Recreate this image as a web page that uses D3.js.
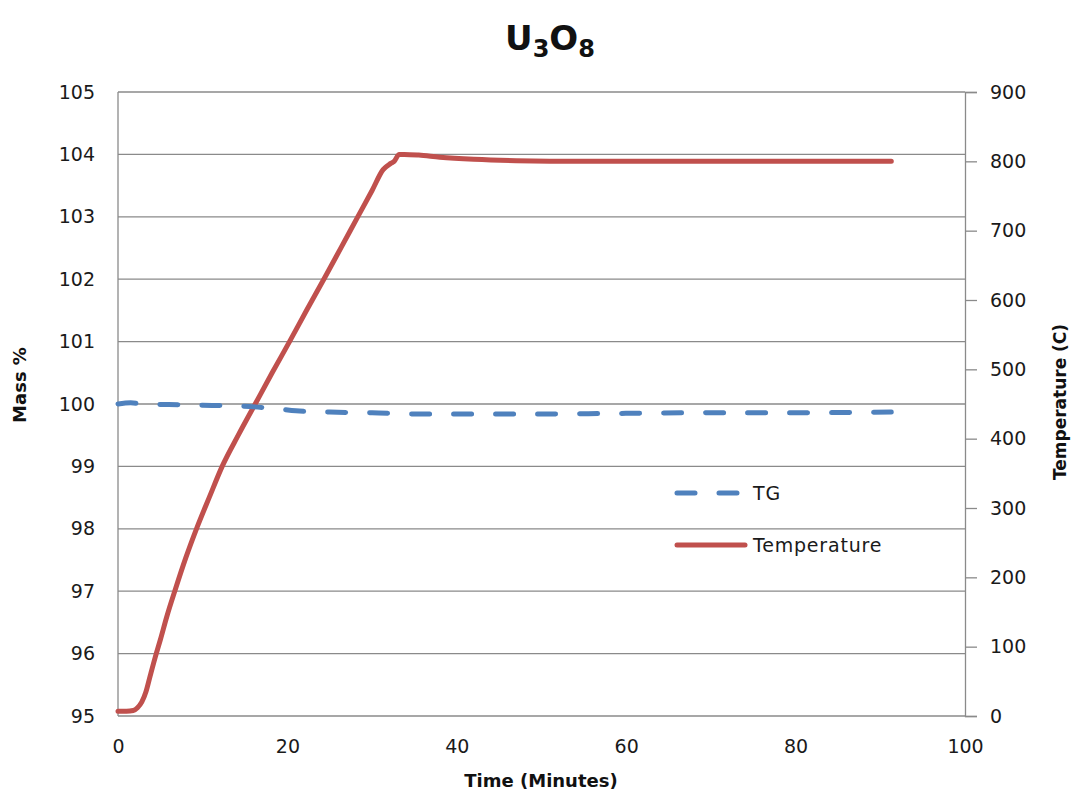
<!DOCTYPE html>
<html><head><meta charset="utf-8">
<script src="https://cdn.jsdelivr.net/npm/d3@7"></script>
<style>
body{margin:0;background:#fff;}
text{font-family:"DejaVu Sans",sans-serif;}
</style></head>
<body><svg id="c" width="1071" height="793"></svg>
<script>
// Data
const tempTime = [0, 1, 1.8, 2.3, 2.8, 3.3, 3.8, 4.4, 5.0, 5.8, 6.7, 8.0, 9.3, 10.8, 12.3, 14.2, 16.2, 18.2, 20.3, 22.3, 24.4, 26.4, 28.4, 30.0, 31.3, 32.2, 32.6, 33.2, 33.8, 35.5, 38, 42, 47, 55, 65, 75, 85, 91.3];
const tempVal  = [7, 7, 8, 12, 20, 35, 58, 85, 110, 145, 180, 228, 271, 316, 360, 405, 450, 495, 541, 586, 632, 677, 722, 758, 788, 797, 800, 810, 810, 809, 806, 803, 801, 800, 800, 800, 800, 800];
const tgTime = [0, 1.5, 3, 6, 10, 14, 16.5, 19, 21, 25, 30, 35, 40, 50, 60, 70, 80, 91.3];
const tgVal  = [100.0, 100.02, 100.0, 99.99, 99.98, 99.97, 99.95, 99.92, 99.89, 99.87, 99.86, 99.84, 99.84, 99.84, 99.85, 99.86, 99.86, 99.87];
const xTicks = [0, 20, 40, 60, 80, 100];
const massTicks = [95, 96, 97, 98, 99, 100, 101, 102, 103, 104, 105];
const tempTicks = [0, 100, 200, 300, 400, 500, 600, 700, 800, 900];
const seriesNames = ["TG", "Temperature"];
const colors = ["#4F81BD", "#C0504D"];

const svg = d3.select("#c");
const L = 118, R = 965, T = 92, B = 716;
const x = d3.scaleLinear().domain([0, 100]).range([L, R]);
const yM = d3.scaleLinear().domain([95, 105]).range([B, T]);
const yT = d3.scaleLinear().domain([0, 900]).range([B, T]);

// gridlines
svg.append("g").selectAll("line").data(massTicks).join("line")
  .attr("x1", L).attr("x2", R).attr("y1", d => yM(d)).attr("y2", d => yM(d))
  .attr("stroke", "#8a8a8a").attr("stroke-width", 1.3);

// left axis line
svg.append("line").attr("x1", L).attr("x2", L).attr("y1", T).attr("y2", B)
  .attr("stroke", "#8a8a8a").attr("stroke-width", 1.3);
// right axis line + ticks
const ra = svg.append("g").attr("transform", `translate(${R},0)`)
  .call(d3.axisRight(yT).tickValues(tempTicks).tickSize(12).tickPadding(13));
ra.select(".domain").attr("stroke", "#8a8a8a").attr("stroke-width", 1.3);
ra.selectAll(".tick line").attr("stroke", "#8a8a8a").attr("stroke-width", 1.3);
ra.selectAll("text").attr("font-size", 19).attr("fill", "#1a1a1a").attr("font-family", "DejaVu Sans");

// left labels
const la = svg.append("g").attr("transform", `translate(${L},0)`)
  .call(d3.axisLeft(yM).tickValues(massTicks).tickSize(0).tickPadding(23));
la.select(".domain").remove();
la.selectAll("text").attr("font-size", 19).attr("fill", "#1a1a1a").attr("font-family", "DejaVu Sans");

// bottom labels
const ba = svg.append("g").attr("transform", `translate(0,${B})`)
  .call(d3.axisBottom(x).tickValues(xTicks).tickSize(0).tickPadding(24));
ba.select(".domain").remove();
ba.selectAll("text").attr("font-size", 19).attr("fill", "#1a1a1a").attr("font-family", "DejaVu Sans");

// lines
const tgLine = d3.line().x((d, i) => x(tgTime[i])).y(d => yM(d)).curve(d3.curveMonotoneX);
const tLine = d3.line().x((d, i) => x(tempTime[i])).y(d => yT(d)).curve(d3.curveMonotoneX);

svg.append("path").datum(tempVal).attr("d", tLine)
  .attr("fill", "none").attr("stroke", colors[1]).attr("stroke-width", 5).attr("stroke-linejoin", "round").attr("stroke-linecap", "round");
svg.append("path").datum(tgVal).attr("d", tgLine)
  .attr("fill", "none").attr("stroke", colors[0]).attr("stroke-width", 5)
  .attr("stroke-dasharray", "18,24").attr("stroke-linecap", "round");

// legend
const lg = svg.append("g");
const ly = [493, 545];
seriesNames.forEach((n, i) => {
  lg.append("line").attr("x1", 677).attr("x2", 745).attr("y1", ly[i]).attr("y2", ly[i])
    .attr("stroke", colors[i]).attr("stroke-width", 5).attr("stroke-linecap", "round")
    .attr("stroke-dasharray", i === 0 ? "18,24" : null);
  lg.append("text").attr("x", 753).attr("y", ly[i]).attr("dy", "0.35em")
    .attr("font-size", 19).attr("fill", "#1a1a1a").attr("letter-spacing", 0.8).text(n);
});

// title
const title = svg.append("text").attr("x", 550).attr("y", 50).attr("text-anchor", "middle")
  .attr("font-size", 34).attr("font-weight", "bold").attr("fill", "#111");
title.append("tspan").text("U");
title.append("tspan").attr("font-size", 24).attr("dy", 7).text("3");
title.append("tspan").attr("dy", -7).text("O");
title.append("tspan").attr("font-size", 24).attr("dy", 7).text("8");

// axis titles
svg.append("text").attr("x", 541).attr("y", 787).attr("text-anchor", "middle")
  .attr("font-size", 18).attr("font-weight", "bold").attr("fill", "#111").text("Time (Minutes)");
svg.append("text").attr("transform", "translate(26,385) rotate(-90)").attr("text-anchor", "middle")
  .attr("font-size", 18).attr("font-weight", "bold").attr("fill", "#111").text("Mass %");
svg.append("text").attr("transform", "translate(1066,402) rotate(-90)").attr("text-anchor", "middle")
  .attr("font-size", 17).attr("font-weight", "bold").attr("fill", "#111").text("Temperature (C)");
</script></body></html>
